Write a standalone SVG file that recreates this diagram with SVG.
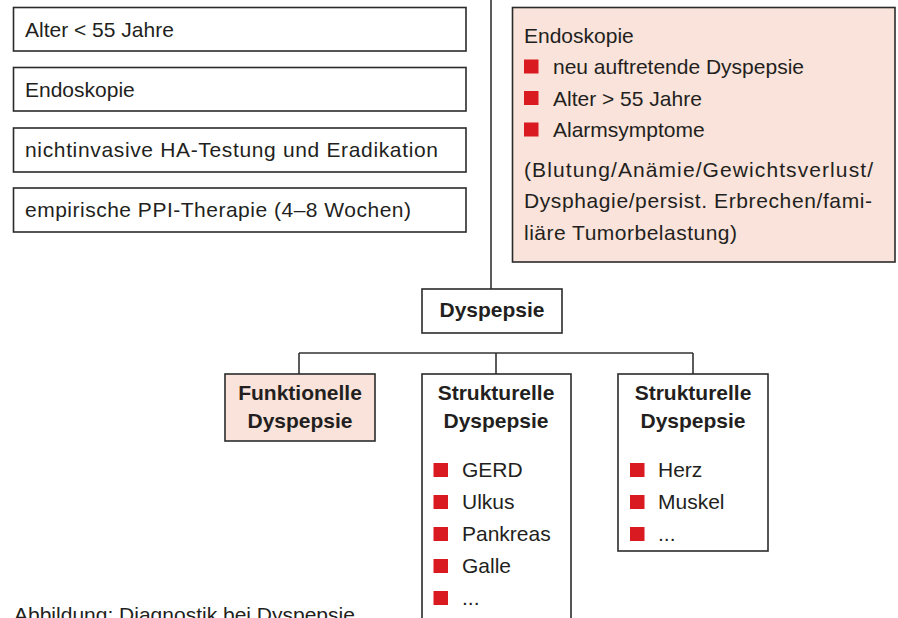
<svg xmlns="http://www.w3.org/2000/svg" width="898" height="618" viewBox="0 0 898 618">
<style>
.box{fill:#fff;stroke:#2b2b2b;stroke-width:1.6}
.pink{fill:#f9e3da;stroke:#2b2b2b;stroke-width:1.6}
.t{font-family:"Liberation Sans",Arial,sans-serif;font-size:21px;fill:#231f20}
.h{font-family:"Liberation Sans",Arial,sans-serif;font-size:21px;font-weight:bold;fill:#231f20;text-anchor:middle}
.b{fill:#d91a21}
.c{stroke:#333;stroke-width:1.6;fill:none}
</style>
<rect width="898" height="618" fill="#fff"/>
<g id="connectors">
<path class="c" d="M491 0V289"/>
<path class="c" d="M299 353H693M299 353V374M496 353V374M693 353V374"/>
</g>
<g id="alter-unter-55">
<rect class="box" x="13.5" y="7.5" width="452.5" height="43.5"/>
<text class="t" x="25" y="36.5">Alter &lt; 55 Jahre</text>
</g>
<g id="endoskopie-links">
<rect class="box" x="13.5" y="67.5" width="452.5" height="43.5"/>
<text class="t" x="25" y="96.5">Endoskopie</text>
</g>
<g id="ha-testung">
<rect class="box" x="13.5" y="128" width="452.5" height="44"/>
<text class="t" x="25" y="157" textLength="413">nichtinvasive HA-Testung und Eradikation</text>
</g>
<g id="ppi-therapie">
<rect class="box" x="13.5" y="188" width="452.5" height="44"/>
<text class="t" x="25" y="217" textLength="386">empirische PPI-Therapie (4–8 Wochen)</text>
</g>
<g id="endoskopie-rechts">
<rect class="pink" x="512.5" y="7.5" width="382.5" height="254.5"/>
<text class="t" x="524" y="42.5">Endoskopie</text>
<rect class="b" x="524" y="59.5" width="14.5" height="14"/>
<text class="t" x="553" y="74">neu auftretende Dyspepsie</text>
<rect class="b" x="524" y="91" width="14.5" height="14"/>
<text class="t" x="553" y="105.5">Alter &gt; 55 Jahre</text>
<rect class="b" x="524" y="122.5" width="14.5" height="14"/>
<text class="t" x="553" y="137">Alarmsymptome</text>
<text class="t" x="524" y="177" textLength="349">(Blutung/Anämie/Gewichtsverlust/</text>
<text class="t" x="524" y="208" textLength="348">Dysphagie/persist. Erbrechen/fami-</text>
<text class="t" x="524" y="239.5" textLength="213">liäre Tumorbelastung)</text>
</g>
<g id="dyspepsie">
<rect class="box" x="422" y="289" width="140" height="44"/>
<text class="h" x="492" y="317">Dyspepsie</text>
</g>
<g id="funktionelle-dyspepsie">
<rect class="pink" x="225" y="374" width="150" height="67"/>
<text class="h" x="300" y="400">Funktionelle</text>
<text class="h" x="300" y="428">Dyspepsie</text>
</g>
<g id="strukturelle-dyspepsie-1">
<rect class="box" x="422" y="374" width="149" height="260"/>
<text class="h" x="496" y="400">Strukturelle</text>
<text class="h" x="496" y="428">Dyspepsie</text>
<rect class="b" x="433.5" y="463" width="14.5" height="14"/>
<text class="t" x="462" y="477">GERD</text>
<rect class="b" x="433.5" y="495" width="14.5" height="14"/>
<text class="t" x="462" y="509">Ulkus</text>
<rect class="b" x="433.5" y="527" width="14.5" height="14"/>
<text class="t" x="462" y="541">Pankreas</text>
<rect class="b" x="433.5" y="559" width="14.5" height="14"/>
<text class="t" x="462" y="573">Galle</text>
<rect class="b" x="433.5" y="591" width="14.5" height="14"/>
<text class="t" x="462" y="605">...</text>
</g>
<g id="strukturelle-dyspepsie-2">
<rect class="box" x="618" y="374" width="150" height="177"/>
<text class="h" x="693" y="400">Strukturelle</text>
<text class="h" x="693" y="428">Dyspepsie</text>
<rect class="b" x="630" y="463" width="14.5" height="14"/>
<text class="t" x="658" y="477">Herz</text>
<rect class="b" x="630" y="495" width="14.5" height="14"/>
<text class="t" x="658" y="509">Muskel</text>
<rect class="b" x="630" y="527" width="14.5" height="14"/>
<text class="t" x="658" y="541">...</text>
</g>
<text class="t" x="14" y="622">Abbildung: Diagnostik bei Dyspepsie</text>
</svg>
